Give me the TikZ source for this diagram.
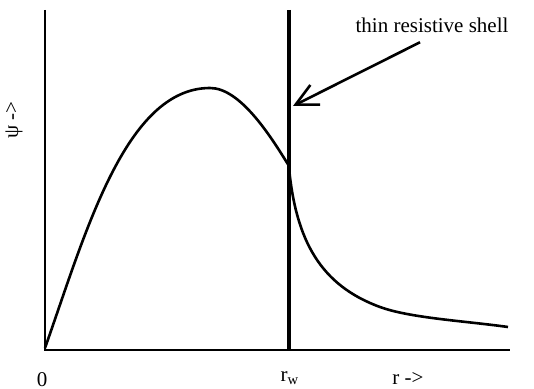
\documentclass[tikz,border=0pt]{standalone}
\usepackage{fontspec}
\setmainfont{Liberation Serif}
\usetikzlibrary{arrows.meta,calc,positioning}

\begin{document}
\begin{tikzpicture}[x=0.5pt,y=-0.5pt,font=\fontsize{10.5}{12}\selectfont,>=Straight Barb,
    axisline/.style={line width=1.4pt},
    shellline/.style={line width=2.4pt},
    curveline/.style={line width=1.3pt,line join=round}]
  \useasboundingbox (0,0) rectangle (534,389);
  \coordinate (o) at (45,350);
  \coordinate (ytop) at (45,10);
  \coordinate (xend) at (510,350);
  \coordinate (stop) at (289,10);
  \coordinate (sbot) at (289,350);
  \draw[axisline] (ytop) -- (o) -- (xend);
  \draw[shellline] (stop) -- (sbot);
  % field profile inside and outside the shell
  \coordinate (peak) at (210,88);
  \coordinate (kin) at (289,166);
  \coordinate (kout) at (289,168);
  \coordinate (tail) at (508,327);
  \draw[curveline] (45,348) .. controls (85,235) and (125,88) .. (peak)
      .. controls (240,88) and (270,135) .. (kin);
  \draw[curveline] (kout) .. controls (296,240) and (320,285) .. (380,307)
      .. controls (410,318) and (465,321) .. (tail);
  \node[anchor=base] (shell) at (432,33) {thin resistive shell};
  \coordinate (hit) at (293,106);
  \draw[->,line width=1.3pt,arrows={->[length=11pt,width=11pt]}] ($(shell.south)+(-12,2)$) -- (hit);
  \node[rotate=90] (psi) at (14,120) {ψ ->};
  \node (zero) at (42,380) {0};
  \node (rw) at (290,378) {r$_{\mathrm{w}}$};
  \node (rlab) at (408,378) {r ->};
\end{tikzpicture}
\end{document}
